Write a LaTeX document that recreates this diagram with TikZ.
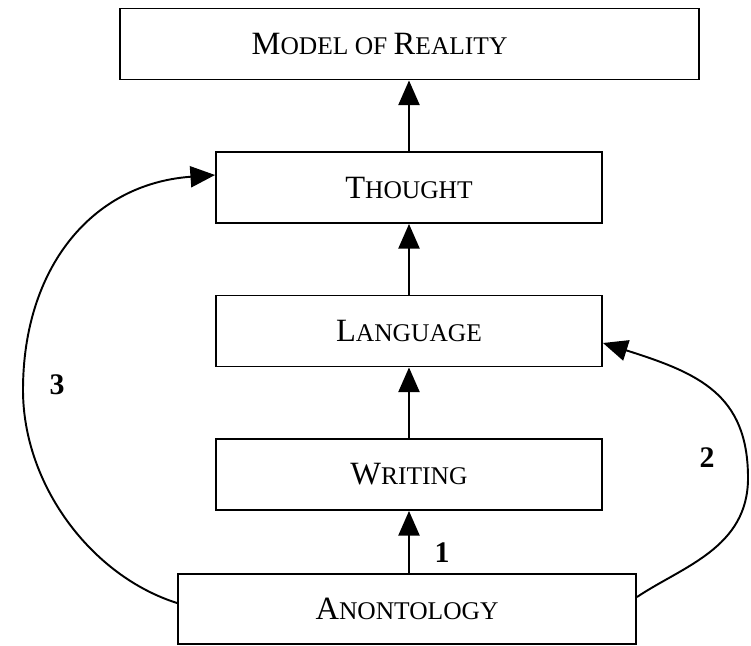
\documentclass[tikz,border=0pt]{standalone}
\usepackage{fontspec}
\setmainfont{Liberation Serif}
\newfontfamily\scfont{Liberation Serif}
\usetikzlibrary{arrows.meta}

% faked small caps: big initial, smaller rest
\newcommand{\fsc}[2]{{\scfont\fontsize{18.5}{18.5}\selectfont #1}{\scfont\fontsize{14.5}{14.5}\selectfont #2}}

\begin{document}
\begin{tikzpicture}[
  box/.style={draw, line width=1.1pt, minimum height=1.42cm, inner sep=0pt},
  link/.style={line width=1.1pt, -{Triangle[length=14pt,width=12pt]}},
  num/.style={font=\fontsize{17}{17}\selectfont\bfseries}]

%Define layout parameters
\def\bw{7.72cm}       %Width of the middle boxes.
\def\mx{8.18}         %x of the centre column.

\useasboundingbox (0,0) rectangle (15.02,12.9);

% Define coordinates
\coordinate (pmod) at (8.19,12.02);
\coordinate (ptho) at (\mx,9.15);
\coordinate (plan) at (\mx,6.28);
\coordinate (pwri) at (\mx,3.41);
\coordinate (pano) at (8.14,0.72);
\coordinate (lbend) at (0.46,5.1);     %leftmost point of curve 3.
\coordinate (rbend) at (14.96,3.34);   %rightmost point of curve 2.

% Draw the boxes.
\node[box, minimum width=11.58cm] (model) at (pmod) {\hspace*{-1.2cm}\fsc{M}{ODEL OF }\fsc{R}{EALITY}};
\node[box, minimum width=\bw] (thought) at (ptho) {\fsc{T}{HOUGHT}};
\node[box, minimum width=\bw] (language) at (plan) {\fsc{L}{ANGUAGE}};
\node[box, minimum width=\bw] (writing) at (pwri) {\fsc{W}{RITING}};
\node[box, minimum width=9.16cm, minimum height=1.40cm] (anon) at (pano) {\fsc{A}{NONTOLOGY}};

% Draw the straight arrows up the column.
\draw[link] (writing.north) -- (writing.north |- language.south);
\draw[link] (language.north) -- (language.north |- thought.south);
\draw[link] (thought.north) -- (thought.north |- model.south);
\draw[link] (anon.north -| writing.south) -- (writing.south);

% Draw the two curved arrows.
\draw[link] ([yshift=0.12cm]anon.west) .. controls +(-1.71,0.54) and +(0,-1.9) .. (lbend)
  .. controls +(0,2.4) and +(-2.5,-0.18) .. ([yshift=0.25cm]thought.west);
\draw[link] ([yshift=0.24cm]anon.east) .. controls +(0.91,0.61) and +(0,-1.4) .. (rbend)
  .. controls +(0,1.68) and +(1.9,-0.6) .. ([yshift=-0.24cm]language.east);

% Numbers
\node[num] (one) at (8.84,1.84) {1};
\node[num] (two) at (14.14,3.74) {2};
\node[num] (three) at (1.14,5.2) {3};

\end{tikzpicture}
\end{document}
